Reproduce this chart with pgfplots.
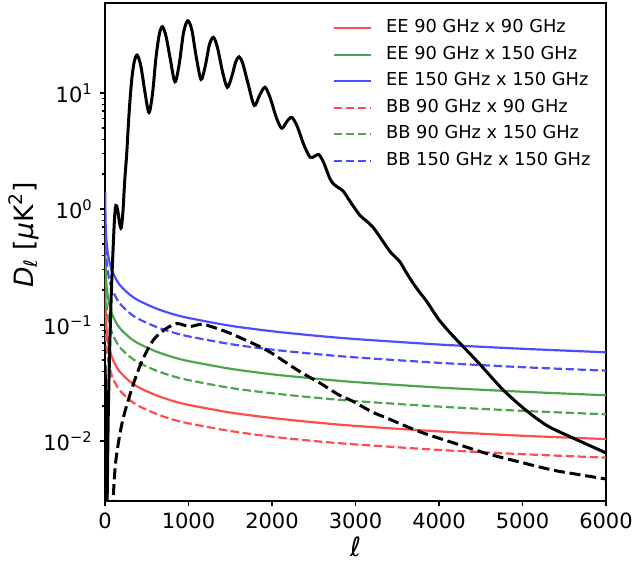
\documentclass[border=0pt]{standalone}
\usepackage{pgfplots}
\pgfplotsset{compat=1.18}
\usepackage{fontspec}
\setmainfont{DejaVu Sans}
\definecolor{mred}{RGB}{255,77,77}
\definecolor{mgreen}{RGB}{77,166,77}
\definecolor{mblue}{RGB}{77,77,255}
\begin{document}
\begin{tikzpicture}
\begin{axis}[
  scale only axis, width=250.5pt, height=249pt,
  xmin=0, xmax=6000, ymode=log, ymin=3.04e-3, ymax=59.7,
  xtick={0,1000,2000,3000,4000,5000,6000},
  xticklabels={0,1000,2000,3000,4000,5000,6000},
  ytick={0.01,0.1,1,10},
  yticklabels={{10\textsuperscript{−2}},{10\textsuperscript{−1}},{10\textsuperscript{0}},{10\textsuperscript{1}}},
  tick align=outside, tick pos=left,
  major tick length=2.6pt, minor tick length=1.5pt,
  axis line style={line width=0.6pt},
  tick style={line width=0.6pt, black},
  tick label style={font=\fontsize{10.5}{12}\selectfont},
  label style={font=\fontsize{13.3}{15}\selectfont},
  xlabel={\itshape ℓ},
  ylabel={{\itshape D}\textsubscript{\itshape ℓ} [{\itshape μ}K\textsuperscript{2}]},
  xlabel style={at={(axis description cs:0.5,-0.092)}, anchor=center},
  ylabel style={at={(axis description cs:-0.162,0.534)}, anchor=center},
  legend style={draw=none, fill=none, at={(axis description cs:0.455,0.966)}, anchor=north west,
    inner sep=0pt, outer sep=0pt, row sep=4.85pt, /tikz/column sep=7pt,
    font=\fontsize{8.9}{10}\selectfont,
    nodes={inner sep=0pt, text height=6.5pt, text depth=1.9pt}},
  legend cell align=left,
  legend image code/.code={\draw[#1] (0pt,0pt) -- (18.5pt,0pt);},
]
% EE noise
\addplot[mred, line width=1.1pt, smooth] coordinates {
(2,0.250)(5,0.154)(10,0.118)(20,0.0909)(40,0.0698)(70,0.0564)(100,0.0493)(150,0.0421)(200,0.0379)(300,0.0325)(400,0.0291)(600,0.0250)(800,0.0223)(1000,0.0205)(1500,0.0176)(2000,0.0158)(2500,0.0145)(3000,0.0135)(4000,0.0121)(5000,0.0111)(6000,0.0104)};
\addlegendentry{EE 90 GHz x 90 GHz}
\addplot[mgreen, line width=1.1pt, smooth] coordinates {
(2,0.596)(5,0.366)(10,0.282)(20,0.217)(40,0.166)(70,0.134)(100,0.117)(150,0.100)(200,0.0902)(300,0.0774)(400,0.0694)(600,0.0596)(800,0.0532)(1000,0.0489)(1500,0.0420)(2000,0.0376)(2500,0.0346)(3000,0.0322)(4000,0.0289)(5000,0.0266)(6000,0.0248)};
\addlegendentry{EE 90 GHz x 150 GHz}
\addplot[mblue, line width=1.1pt, smooth] coordinates {
(2,1.40)(5,0.861)(10,0.662)(20,0.509)(40,0.391)(70,0.316)(100,0.276)(150,0.236)(200,0.212)(300,0.182)(400,0.163)(600,0.140)(800,0.125)(1000,0.115)(1500,0.0986)(2000,0.0884)(2500,0.0812)(3000,0.0757)(4000,0.0679)(5000,0.0624)(6000,0.0582)};
\addlegendentry{EE 150 GHz x 150 GHz}
% BB noise
\addplot[mred, line width=1.1pt, smooth, dash pattern=on 4.2pt off 1.8pt] coordinates {
(2,0.173)(5,0.106)(10,0.0817)(20,0.0628)(40,0.0483)(70,0.0390)(100,0.0341)(150,0.0291)(200,0.0262)(300,0.0225)(400,0.0201)(600,0.0173)(800,0.0154)(1000,0.0142)(1500,0.0122)(2000,0.0109)(2500,0.0100)(3000,0.00935)(4000,0.00838)(5000,0.00770)(6000,0.00719)};
\addlegendentry{BB 90 GHz x 90 GHz}
\addplot[mgreen, line width=1.1pt, smooth, dash pattern=on 4.2pt off 1.8pt] coordinates {
(2,0.408)(5,0.251)(10,0.193)(20,0.148)(40,0.114)(70,0.0921)(100,0.0805)(150,0.0688)(200,0.0618)(300,0.0531)(400,0.0475)(600,0.0408)(800,0.0364)(1000,0.0335)(1500,0.0287)(2000,0.0258)(2500,0.0237)(3000,0.0221)(4000,0.0198)(5000,0.0182)(6000,0.0170)};
\addlegendentry{BB 90 GHz x 150 GHz}
\addplot[mblue, line width=1.1pt, smooth, dash pattern=on 4.2pt off 1.8pt] coordinates {
(2,0.972)(5,0.598)(10,0.460)(20,0.353)(40,0.272)(70,0.219)(100,0.192)(150,0.164)(200,0.147)(300,0.126)(400,0.113)(600,0.0972)(800,0.0868)(1000,0.0799)(1500,0.0685)(2000,0.0614)(2500,0.0564)(3000,0.0526)(4000,0.0472)(5000,0.0433)(6000,0.0404)};
\addlegendentry{BB 150 GHz x 150 GHz}
% CMB EE
\addplot[black, line width=1.5pt, smooth, forget plot] coordinates {
(2,0.045)(4,0.03)(7,0.012)(10,0.004)(14,0.0015)(20,0.0015)(28,0.004)(38,0.015)(50,0.04)(60,0.08)(70,0.14)(80,0.23)(100,0.51)(115,0.85)(130,1.07)(150,1.0)(175,0.75)(195,0.69)(215,0.95)(235,1.7)(260,3.0)(290,7.0)(320,13)(350,18.5)(385,21.2)(430,17)(480,10)(527,6.8)(570,10)(610,20)(650,32)(687,37.3)(730,31)(780,20)(838,12.5)(890,18)(940,33)(990,42)(1040,35)(1090,21)(1150,13.1)(1200,17)(1250,26)(1297,30.2)(1345,25)(1410,15)(1465,11.2)(1520,14)(1565,18.5)(1605,20.5)(1650,18)(1720,11.5)(1788,7.8)(1850,9.5)(1916,11.2)(1980,9.0)(2050,6.2)(2116,4.97)(2180,5.7)(2236,6.17)(2300,5.2)(2380,3.6)(2455,2.8)(2510,2.85)(2560,2.95)(2620,2.5)(2690,1.85)(2735,1.65)(2800,1.52)(2855,1.42)(2950,1.12)(3054,0.88)(3130,0.79)(3214,0.69)(3310,0.55)(3413,0.43)(3470,0.39)(3533,0.35)(3600,0.29)(3680,0.235)(3760,0.195)(3852,0.16)(3950,0.125)(4012,0.108)(4150,0.083)(4291,0.065)(4500,0.045)(4770,0.0275)(5050,0.0182)(5300,0.0135)(5569,0.0109)(6000,0.0079)};
% lensing BB
\addplot[black, line width=1.5pt, smooth, dash pattern=on 5.5pt off 2.4pt, forget plot] coordinates {
(90,0.0025)(110,0.0045)(130,0.0068)(180,0.0117)(230,0.017)(280,0.0226)(340,0.031)(400,0.041)(460,0.052)(519,0.063)(578,0.074)(650,0.084)(750,0.095)(858,0.103)(940,0.1)(1018,0.097)(1100,0.1)(1178,0.102)(1250,0.098)(1350,0.093)(1497,0.085)(1650,0.076)(1856,0.065)(2000,0.057)(2176,0.047)(2350,0.039)(2575,0.0316)(2800,0.025)(2974,0.0219)(3200,0.0178)(3400,0.0155)(3772,0.012)(4200,0.0095)(4571,0.0078)(5000,0.0065)(5369,0.0056)(5700,0.0051)(6000,0.0047)};
\end{axis}
\pgfresetboundingbox
\path[use as bounding box] ([shift={(-52.5pt,-30pt)}]current axis.south west) rectangle ([shift={(266pt,250.5pt)}]current axis.south west);
\end{tikzpicture}
\end{document}
